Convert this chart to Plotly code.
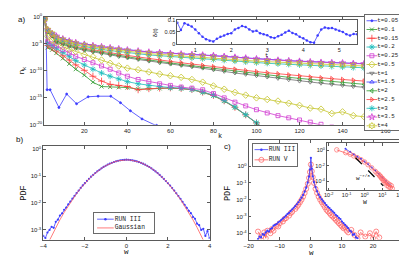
import plotly.graph_objects as go

W, H = 407, 256

# ---------------- panel a: n_k spectra (log10 values) ----------------
K = [1.5, 3, 5, 7, 10, 13, 16, 20, 24, 28, 32, 36, 40, 45, 50, 55, 60, 65, 70,
     75, 80, 85, 90, 95, 100, 105, 110, 115, 120, 125, 130, 135, 140, 145, 150,
     155, 160, 165, 170]
K_t005 = [1.5, 2.2, 2.7, 4.1, 8.2, 11.8, 16.4, 21.8, 26.4, 32.3, 36.8, 41.4, 46.8, 53.6, 58]
LOGN_t005 = [-0.4, -2.4, -13.5, -13.5, -16.8, -14.3, -16.1, -14.8, -14.7, -14.7, -15.9, -17.4, -18.9, -20.1, -21]
LOGN_t01 = [-0.4, -5.7, -6.1, -6.7, -7.7, -8.7, -9.7, -10.8, -12.1, -12.9, -13.0, -13.05, -13.1, -13.4,
            -13.3, -13.25, -13.2, -13.3, -13.5, -14.0, -14.6, -15.6, -16.8, -18.2, -19.7, -21.2]
LOGN_t015 = [-0.4, -5.3, -5.7, -6.3, -7.2, -8.0, -8.9, -9.9, -11.0, -11.9, -12.5, -12.7, -12.9, -13.5,
             -13.3, -13.2, -13.15, -13.25, -13.45, -13.95, -14.55, -15.55, -16.75, -18.15, -19.65, -21.15]
LOGN_t02 = [-0.4, -4.9, -5.3, -5.8, -6.6, -7.3, -8.1, -8.9, -9.7, -10.4, -11.0, -11.5, -12.0, -12.4,
            -12.7, -12.9, -13.1, -13.2, -13.45, -13.9, -14.5, -15.5, -16.7, -18.1, -19.6, -21.1]
LOGN_t025 = [-0.4, -4.6, -5.0, -5.4, -6.1, -6.7, -7.3, -7.9, -8.5, -9.1, -9.7, -10.4, -11.0, -11.6,
             -12.0, -12.4, -12.7, -13.0, -13.2, -13.5, -14.2, -15.0, -15.8, -16.5, -17.2, -17.8,
             -18.3, -18.7, -19.1, -19.5, -19.9, -20.4, -20.9]
LOGN_t05 = [-0.4, -3.6, -4.3, -4.8, -5.5, -6.0, -6.4, -7.0, -7.4, -8.0, -8.6, -9.1, -9.5, -9.8,
            -10.2, -10.6, -10.9, -11.2, -11.6, -12.1, -12.8, -13.4, -14.0, -14.5, -15.0, -15.3,
            -15.6, -16.0, -16.4, -16.9, -17.1, -17.9, -17.6, -18.3, -18.5, -18.8, -19.3, -19.9, -20.3]
LOGN_t1 = [-0.4, -2.8, -3.6, -4.7, -5.1, -5.5, -5.85, -6.2, -6.5, -6.8, -7.1, -7.35, -7.6, -7.9,
           -8.2, -8.5, -8.75, -9.0, -9.25, -9.5, -9.8, -10.1, -10.4, -10.65, -10.9, -11.15, -11.4,
           -11.65, -11.9, -12.1, -12.3, -12.5, -12.7, -12.9, -13.1, -13.3, -13.45, -13.6, -13.8]
LOGN_t15 = [-0.4, -2.3, -3.0, -3.5, -4.0, -4.4, -4.7, -5.0, -5.3, -5.5, -5.7, -5.9, -6.1, -6.3,
            -6.5, -6.6, -6.75, -6.85, -6.95, -7.05, -7.15, -7.3, -7.45, -7.6, -7.75, -7.9, -8.0,
            -8.1, -8.2, -8.3, -8.4, -8.45, -8.5, -8.6, -8.65, -8.7, -8.75, -8.8, -8.85]
LOGN_t2 = [-0.4, -2.7, -3.5, -4.5, -4.9, -5.3, -5.65, -6.0, -6.3, -6.6, -6.9, -7.15, -7.4, -7.7,
           -8.0, -8.3, -8.55, -8.8, -9.05, -9.3, -9.55, -9.8, -10.05, -10.3, -10.55, -10.8, -11.0,
           -11.2, -11.4, -11.6, -11.8, -12.0, -12.2, -12.35, -12.5, -12.65, -12.8, -12.95, -13.1]
LOGN_t25 = [-0.4, -2.6, -3.4, -4.3, -4.7, -5.1, -5.45, -5.8, -6.1, -6.4, -6.65, -6.9, -7.15, -7.45,
            -7.75, -8.0, -8.25, -8.5, -8.75, -9.0, -9.25, -9.5, -9.7, -9.95, -10.15, -10.35, -10.55,
            -10.75, -10.95, -11.15, -11.3, -11.45, -11.6, -11.75, -11.9, -12.05, -12.2, -12.35, -12.5]
LOGN_t3 = [-0.4, -2.5, -3.2, -4.1, -4.5, -4.9, -5.2, -5.5, -5.8, -6.05, -6.25, -6.45, -6.65, -6.85,
           -7.05, -7.2, -7.35, -7.5, -7.6, -7.75, -7.9, -8.05, -8.2, -8.35, -8.5, -8.6, -8.7, -8.8,
           -8.9, -9.0, -9.1, -9.2, -9.3, -9.4, -9.5, -9.6, -9.65, -9.7, -9.8]
LOGN_t35 = [-0.4, -2.4, -3.1, -3.6, -4.1, -4.5, -4.8, -5.1, -5.35, -5.55, -5.75, -5.95, -6.15, -6.35,
            -6.55, -6.65, -6.8, -6.9, -7.0, -7.1, -7.2, -7.35, -7.5, -7.65, -7.8, -7.95, -8.05,
            -8.15, -8.25, -8.35, -8.45, -8.5, -8.55, -8.65, -8.7, -8.75, -8.8, -8.85, -8.9]
LOGN_t4 = [-0.4, -2.4, -3.1, -3.9, -4.3, -4.7, -5.0, -5.3, -5.6, -5.8, -6.0, -6.2, -6.4, -6.6,
           -6.8, -6.95, -7.1, -7.2, -7.3, -7.45, -7.6, -7.75, -7.9, -8.05, -8.2, -8.3, -8.4, -8.5,
           -8.6, -8.7, -8.8, -8.85, -8.9, -9.0, -9.1, -9.15, -9.2, -9.25, -9.3]
T_LABELS = ["t=0.05", "t=0.1", "t=0.15", "t=0.2", "t=0.25", "t=0.5", "t=1",
            "t=1.5", "t=2", "t=2.5", "t=3", "t=3.5", "t=4"]
A_YTICKS = [1, 1e-5, 1e-10, 1e-15, 1e-20]
A_YTEXT = ["10<sup>0</sup>", "10<sup>-5</sup>", "10<sup>-10</sup>", "10<sup>-15</sup>", "10<sup>-20</sup>"]
A_XTICKS = [20, 40, 60, 80, 100, 120, 140, 160]

# inset a: delta(t)
T_IN = [0.5, 0.6, 0.7, 0.8, 0.9, 1.0, 1.1, 1.2, 1.3, 1.4, 1.5, 1.6, 1.7, 1.8, 1.9, 2.0, 2.1, 2.2,
        2.3, 2.4, 2.5, 2.6, 2.7, 2.8, 2.9, 3.0, 3.1, 3.2, 3.3, 3.4, 3.5, 3.6, 3.7, 3.8, 3.9, 4.0,
        4.1, 4.2, 4.3, 4.4, 4.5, 4.6, 4.7, 4.8, 4.9, 5.0, 5.1, 5.2, 5.3, 5.4, 5.5]
DELTA = [0.088, 0.058, 0.086, 0.080, 0.072, 0.060, 0.045, 0.030, 0.020, 0.014, 0.011, 0.022,
         0.030, 0.035, 0.042, 0.045, 0.060, 0.066, 0.074, 0.070, 0.060, 0.052, 0.055, 0.045,
         0.040, 0.036, 0.028, 0.025, 0.032, 0.038, 0.048, 0.055, 0.046, 0.040, 0.030, 0.024,
         0.015, 0.008, 0.006, 0.035, 0.060, 0.068, 0.065, 0.066, 0.060, 0.055, 0.050, 0.040,
         0.035, 0.042, 0.040]

# ---------------- panel b ----------------
W_B = [-4.0, -3.9, -3.8, -3.7, -3.6, -3.5, -3.4, -3.3, -3.2, -3.1, -3.0, -2.9, -2.8, -2.7, -2.6,
       -2.5, -2.4, -2.3, -2.2, -2.1, -2.0, -1.9, -1.8, -1.7, -1.6, -1.5, -1.4, -1.3, -1.2, -1.1,
       -1.0, -0.9, -0.8, -0.7, -0.6, -0.5, -0.4, -0.3, -0.2, -0.1, 0.0, 0.1, 0.2, 0.3, 0.4, 0.5,
       0.6, 0.7, 0.8, 0.9, 1.0, 1.1, 1.2, 1.3, 1.4, 1.5, 1.6, 1.7, 1.8, 1.9, 2.0, 2.1, 2.2, 2.3,
       2.4, 2.5, 2.6, 2.7, 2.8, 2.9, 3.0, 3.1, 3.2, 3.3, 3.4, 3.5, 3.6, 3.7, 3.8, 3.9, 4.0]
PDF_B_RUN3 = [0.0006, 0.0005, 0.0008, 0.0010, 0.0013, 0.0012, 0.0020, 0.0024, 0.0034, 0.0041,
              0.0056, 0.0068, 0.0089, 0.0113, 0.0145, 0.0183, 0.0232, 0.0290, 0.0362, 0.0448,
              0.0545, 0.0660, 0.0795, 0.0945, 0.111, 0.130, 0.150, 0.171, 0.194, 0.218, 0.242,
              0.266, 0.290, 0.312, 0.333, 0.352, 0.370, 0.383, 0.395, 0.402, 0.405, 0.403, 0.394,
              0.382, 0.369, 0.351, 0.332, 0.311, 0.289, 0.265, 0.241, 0.217, 0.193, 0.170, 0.149,
              0.129, 0.110, 0.094, 0.079, 0.0655, 0.054, 0.0445, 0.036, 0.0289, 0.0230, 0.0180,
              0.0143, 0.0110, 0.0086, 0.0066, 0.0051, 0.0042, 0.0030, 0.0026, 0.0017, 0.0015,
              0.0010, 0.0011, 0.0006, 0.0009, 0.0005]
W_GAUSS = [-3.8, -3.6, -3.4, -3.2, -3.0, -2.8, -2.6, -2.4, -2.2, -2.0, -1.8, -1.6, -1.4, -1.2,
           -1.0, -0.8, -0.6, -0.4, -0.2, 0.0, 0.2, 0.4, 0.6, 0.8, 1.0, 1.2, 1.4, 1.6, 1.8, 2.0,
           2.2, 2.4, 2.6, 2.8, 3.0, 3.2, 3.4, 3.6, 3.8]
PDF_GAUSS = [0.000292, 0.000612, 0.00123, 0.00238, 0.00443, 0.0079, 0.0136, 0.0224, 0.0355,
             0.0540, 0.0790, 0.1109, 0.1497, 0.1942, 0.2420, 0.2897, 0.3332, 0.3683, 0.3910,
             0.3989, 0.3910, 0.3683, 0.3332, 0.2897, 0.2420, 0.1942, 0.1497, 0.1109, 0.0790,
             0.0540, 0.0355, 0.0224, 0.0136, 0.0079, 0.00443, 0.00238, 0.00123, 0.000612, 0.000292]
B_YTICKS = [1, 0.1, 0.01, 0.001]
B_YTEXT = ["10<sup>0</sup>", "10<sup>-1</sup>", "10<sup>-2</sup>", "10<sup>-3</sup>"]
B_XTICKS = [-4, -2, 0, 2, 4]
B_LEGEND = ["RUN III", "Gaussian"]

# ---------------- panel c ----------------
W_C3 = [-17, -16.5, -16, -15.5, -15, -14.5, -14, -13.5, -13, -12.5, -12, -11.5, -11, -10.5, -10,
        -9.5, -9, -8.5, -8, -7.5, -7, -6.5, -6, -5.5, -5, -4.5, -4, -3.5, -3, -2.5, -2, -1.5, -1,
        -0.6, -0.3, 0, 0.3, 0.6, 1, 1.5, 2, 2.5, 3, 3.5, 4, 4.5, 5, 5.5, 6, 6.5, 7, 7.5, 8, 8.5,
        9, 9.5, 10, 10.5, 11, 11.5, 12, 12.5, 13, 13.5, 14, 14.5, 15]
LOGP_C3 = [-4.35, -4.2, -4.25, -4.05, -4.1, -3.95, -3.85, -3.9, -3.75, -3.7, -3.55, -3.5, -3.45,
           -3.35, -3.3, -3.2, -3.12, -3.05, -2.95, -2.85, -2.78, -2.68, -2.58, -2.48, -2.38, -2.27,
           -2.15, -2.02, -1.88, -1.72, -1.52, -1.28, -0.98, -0.62, -0.2, 0.5, -0.15, -0.6, -0.95,
           -1.25, -1.5, -1.7, -1.85, -1.98, -2.1, -2.2, -2.32, -2.42, -2.5, -2.6, -2.7, -2.78, -2.9,
           -2.98, -3.08, -3.15, -3.3, -3.4, -3.5, -3.6, -3.7, -3.85, -3.9, -4.1, -4.05, -4.25, -4.3]
W_C5 = [-17, -16, -15, -14.5, -14, -13, -12.5, -12, -11, -10.5, -10, -9, -8.5, -8, -7, -6.5, -6,
        -5, -4.5, -4, -3.5, -3, -2.5, -2, -1.5, -1, -0.6, -0.3, 0, 0.3, 0.6, 1, 1.5, 2, 2.5, 3,
        3.5, 4, 4.5, 5, 5.5, 6, 6.5, 7, 7.5, 8, 8.5, 9, 9.5, 10, 10.5, 11, 11.5, 12, 13, 14, 15,
        16, 17.5, 19, 20, 21, 22]
LOGP_C5 = [-3.9, -4.2, -3.95, -4.3, -3.85, -4.0, -3.75, -3.85, -3.55, -3.6, -3.4, -3.3, -3.15, -3.1,
           -2.95, -2.8, -2.72, -2.55, -2.42, -2.3, -2.15, -2.0, -1.82, -1.6, -1.35, -1.05, -0.7,
           -0.35, 0.1, -0.3, -0.65, -1.0, -1.35, -1.6, -1.82, -2.0, -2.15, -2.3, -2.45, -2.6, -2.7,
           -2.8, -2.92, -3.0, -3.1, -3.2, -3.3, -3.4, -3.5, -3.6, -3.7, -3.65, -3.85, -3.95, -3.8,
           -4.1, -4.3, -3.95, -4.2, -4.0, -4.3, -3.9, -4.25]
C_YTICKS = [1, 0.1, 0.01, 0.001, 0.0001]
C_YTEXT = ["10<sup>0</sup>", "10<sup>-1</sup>", "10<sup>-2</sup>", "10<sup>-3</sup>", "10<sup>-4</sup>"]
C_XTICKS = [-20, -10, 0, 10, 20, 30]
C_LEGEND = ["RUN III", "RUN V"]

# inset c (log10 |w|, log10 PDF)
LOGW_IN5 = [-1.55, -1.05, -0.8, -0.6, -0.4, -0.2, 0, 0.2, 0.4, 0.6, 0.7, 0.8, 0.85, 0.9, 0.95,
            1.0, 1.05, 1.1, 1.15, 1.2, 1.25, 1.3, 1.35, 1.4, 1.45, 1.5, 1.55]
LOGP_IN5 = [0.06, -0.3, -0.5, -0.72, -0.95, -1.2, -1.5, -1.85, -2.25, -2.7, -2.95, -3.1, -3.3,
            -3.35, -3.6, -3.6, -3.9, -3.85, -4.2, -4.05, -4.5, -4.25, -4.7, -4.4, -4.8, -4.55, -4.9]
LOGW_IN3 = [-1.06, -0.8, -0.6, -0.4, -0.2, 0, 0.2, 0.4, 0.6, 0.8, 1.0, 1.2, 1.4]
LOGP_IN3 = [0.19, -0.2, -0.5, -0.8, -1.1, -1.45, -1.8, -2.2, -2.6, -3.05, -3.5, -3.95, -4.4]
LOGW_SLOPE = [-0.5, 1.05]
LOGP_SLOPE = [-0.95, -4.57]
IN_XTICKS = [1e-2, 1e-1, 1, 10, 100]
IN_XTEXT = ["10<sup>-2</sup>", "10<sup>-1</sup>", "10<sup>0</sup>", "10<sup>1</sup>", "10<sup>2</sup>"]
IN_YTICKS = [1, 1e-2, 1e-4]
IN_YTEXT = ["10<sup>0</sup>", "10<sup>-2</sup>", "10<sup>-4</sup>"]


def p10(v):
    return [10 ** x for x in v]


def dxd(a, b):
    return [a / W, b / W]


def dyd(top, bottom):
    return [1 - bottom / H, 1 - top / H]


BLUE, GREEN, RED, CYAN = "#3b3bff", "#2f9a2f", "#ff3c3c", "#1cbcbc"
MAG, YEL, GRAY = "#d23cd2", "#c4c42a", "#6e6e6e"

series_a = [
    (K_t005, LOGN_t005, BLUE, "circle", 2),
    (K, LOGN_t01, GREEN, "x-thin-open", 4),
    (K, LOGN_t015, RED, "cross-thin-open", 5),
    (K, LOGN_t02, CYAN, "asterisk-open", 5),
    (K, LOGN_t025, MAG, "square-open", 4),
    (K, LOGN_t05, YEL, "diamond-open", 5),
    (K, LOGN_t1, GRAY, "triangle-down-open", 4),
    (K, LOGN_t15, BLUE, "triangle-up-open", 4),
    (K, LOGN_t2, GREEN, "triangle-left-open", 4),
    (K, LOGN_t25, RED, "triangle-right-open", 4),
    (K, LOGN_t3, CYAN, "asterisk-open", 5),
    (K, LOGN_t35, MAG, "star-open", 5),
    (K, LOGN_t4, YEL, "hexagram-open", 5),
]

fig = go.Figure()

for kx, lv, col, sym, sz in series_a:
    fig.add_trace(go.Scatter(x=kx[:len(lv)], y=p10(lv), mode="lines+markers",
                             line=dict(color=col, width=0.8),
                             marker=dict(symbol=sym, size=sz, color=col, line=dict(width=0.8, color=col)),
                             xaxis="x", yaxis="y", showlegend=False))

fig.add_trace(go.Scatter(x=T_IN, y=DELTA, mode="lines+markers", line=dict(color=BLUE, width=0.8),
                         marker=dict(size=2.5, color=BLUE), xaxis="x2", yaxis="y2", showlegend=False))

fig.add_trace(go.Scatter(x=W_B, y=PDF_B_RUN3, mode="lines+markers", line=dict(color=BLUE, width=0.8),
                         marker=dict(size=2.2, color=BLUE), xaxis="x3", yaxis="y3", showlegend=False))
fig.add_trace(go.Scatter(x=W_GAUSS, y=PDF_GAUSS, mode="lines", line=dict(color="#ff5a5a", width=0.8),
                         xaxis="x3", yaxis="y3", showlegend=False))

fig.add_trace(go.Scatter(x=W_C5, y=p10(LOGP_C5), mode="lines+markers", line=dict(color="#ff5a5a", width=0.8),
                         marker=dict(symbol="circle-open", size=5, color="#ff6a6a", line=dict(width=0.8)),
                         xaxis="x4", yaxis="y4", showlegend=False))
fig.add_trace(go.Scatter(x=W_C3, y=p10(LOGP_C3), mode="lines+markers", line=dict(color=BLUE, width=0.8),
                         marker=dict(size=2.2, color=BLUE), xaxis="x4", yaxis="y4", showlegend=False))

fig.add_trace(go.Scatter(x=p10(LOGW_IN3), y=p10(LOGP_IN3), mode="lines+markers", line=dict(color=BLUE, width=0.8),
                         marker=dict(size=2, color=BLUE), xaxis="x5", yaxis="y5", showlegend=False))
fig.add_trace(go.Scatter(x=p10(LOGW_IN5), y=p10(LOGP_IN5), mode="lines+markers", line=dict(color="#ff5a5a", width=0.8),
                         marker=dict(symbol="circle-open", size=4.5, color="#ff6a6a", line=dict(width=0.7)),
                         xaxis="x5", yaxis="y5", showlegend=False))
fig.add_trace(go.Scatter(x=p10(LOGW_SLOPE), y=p10(LOGP_SLOPE), mode="lines",
                         line=dict(color="black", width=1.3, dash="dash"),
                         xaxis="x5", yaxis="y5", showlegend=False))

# ---------- hand-built legends (legend boxes as small subplots) ----------
MONO = "Liberation Mono"
n = len(T_LABELS)
ly = [6 + 9 * i for i in range(n)]
for i, (kx, lv, col, sym, sz) in enumerate(series_a):
    fig.add_trace(go.Scatter(x=[1.5, 12.5], y=[ly[i], ly[i]], mode="lines", line=dict(color=col, width=0.8),
                             xaxis="x7", yaxis="y7", showlegend=False))
    fig.add_trace(go.Scatter(x=[7], y=[ly[i]], mode="markers",
                             marker=dict(symbol=sym, size=sz, color=col, line=dict(width=0.8, color=col)),
                             xaxis="x7", yaxis="y7", showlegend=False))
fig.add_trace(go.Scatter(x=[12.5] * n, y=ly, mode="text", text=T_LABELS, textposition="middle right",
                         textfont=dict(family=MONO, size=5.8, color="#222"), cliponaxis=False,
                         xaxis="x7", yaxis="y7", showlegend=False))

# legend b
fig.add_trace(go.Scatter(x=[3, 20], y=[6, 6], mode="lines", line=dict(color=BLUE, width=0.8),
                         xaxis="x8", yaxis="y8", showlegend=False))
fig.add_trace(go.Scatter(x=[11.5], y=[6], mode="markers", marker=dict(size=2.5, color=BLUE),
                         xaxis="x8", yaxis="y8", showlegend=False))
fig.add_trace(go.Scatter(x=[3, 20], y=[15, 15], mode="lines", line=dict(color="#ff5a5a", width=0.8),
                         xaxis="x8", yaxis="y8", showlegend=False))
fig.add_trace(go.Scatter(x=[21, 21], y=[6, 15], mode="text", text=B_LEGEND, textposition="middle right",
                         textfont=dict(family=MONO, size=6.3, color="#222"), cliponaxis=False,
                         xaxis="x8", yaxis="y8", showlegend=False))

# legend c
fig.add_trace(go.Scatter(x=[2, 16], y=[5.5, 5.5], mode="lines", line=dict(color=BLUE, width=0.8),
                         xaxis="x9", yaxis="y9", showlegend=False))
fig.add_trace(go.Scatter(x=[9], y=[5.5], mode="markers", marker=dict(size=2.5, color=BLUE),
                         xaxis="x9", yaxis="y9", showlegend=False))
fig.add_trace(go.Scatter(x=[2, 16], y=[16, 16], mode="lines", line=dict(color="#ff5a5a", width=0.8),
                         xaxis="x9", yaxis="y9", showlegend=False))
fig.add_trace(go.Scatter(x=[9], y=[16], mode="markers",
                         marker=dict(symbol="circle-open", size=5, color="#ff6a6a", line=dict(width=0.8)),
                         xaxis="x9", yaxis="y9", showlegend=False))
fig.add_trace(go.Scatter(x=[16.5, 16.5], y=[5.5, 16], mode="text", text=C_LEGEND, textposition="middle right",
                         textfont=dict(family=MONO, size=6.3, color="#222"), cliponaxis=False,
                         xaxis="x9", yaxis="y9", showlegend=False))

TF = dict(size=6, family="Liberation Sans", color="#222")
base = dict(showline=True, linecolor="#5a5a5a", linewidth=0.8, mirror="ticks", ticks="inside",
            ticklen=2.5, tickwidth=0.6, tickcolor="#5a5a5a", showgrid=False, zeroline=False,
            tickfont=TF)
legax = dict(showline=True, linecolor="#6a6a6a", linewidth=0.8, mirror=True, ticks="",
             showticklabels=False, showgrid=False, zeroline=False, fixedrange=True)
TF_IN = dict(size=5.5, family="Liberation Sans", color="#222")

layout = dict(
    width=W, height=H, margin=dict(l=0, r=0, t=0, b=0),
    paper_bgcolor="white", plot_bgcolor="white", showlegend=False,
    xaxis=dict(base, domain=dxd(32, 403), range=[1.4, 170], tickmode="array", tickvals=A_XTICKS,
               anchor="y"),
    yaxis=dict(base, domain=dyd(5, 116), type="log", range=[-20, 0], tickmode="array",
               tickvals=A_YTICKS, ticktext=A_YTEXT, anchor="x"),
    xaxis2=dict(base, domain=dxd(168, 352), range=[0.5, 5.5], tickmode="array",
                tickvals=[1, 2, 3, 4, 5], anchor="y2", tickfont=TF_IN),
    yaxis2=dict(base, domain=dyd(8, 33), range=[0, 0.1], tickmode="array",
                tickvals=[0, 0.05, 0.1], ticktext=["0", "0.05", "0.1"], anchor="x2", tickfont=TF_IN),
    xaxis3=dict(base, domain=dxd(31, 201), range=[-4, 4], tickmode="array", tickvals=B_XTICKS,
                ticktext=["\u22124", "\u22122", "0", "2", "4"], anchor="y3"),
    yaxis3=dict(base, domain=dyd(138, 234), type="log", range=[-3.36, 0.108], tickmode="array",
                tickvals=B_YTICKS, ticktext=B_YTEXT, anchor="x3"),
    xaxis4=dict(base, domain=dxd(241, 400), range=[-20, 30], tickmode="array", tickvals=C_XTICKS,
                ticktext=["\u221220", "\u221210", "0", "10", "20", "30"], anchor="y4"),
    yaxis4=dict(base, domain=dyd(132, 234), type="log", range=[-4.38, 1.54], tickmode="array",
                tickvals=C_YTICKS, ticktext=C_YTEXT, anchor="x4"),
    xaxis5=dict(base, domain=dxd(321, 397), type="log", range=[-2.1, 2.05], tickmode="array",
                tickvals=IN_XTICKS, ticktext=IN_XTEXT, anchor="y5", tickfont=TF_IN),
    yaxis5=dict(base, domain=dyd(135, 183), type="log", range=[-5.1, 0.9], tickmode="array",
                tickvals=IN_YTICKS, ticktext=IN_YTEXT, anchor="x5", tickfont=TF_IN),
    xaxis7=dict(legax, domain=dxd(360, 403), range=[0, 43], anchor="y7"),
    yaxis7=dict(legax, domain=dyd(3, 121), range=[118, 0], anchor="x7"),
    xaxis8=dict(legax, domain=dxd(83, 144), range=[0, 61], anchor="y8"),
    yaxis8=dict(legax, domain=dyd(207, 227), range=[20, 0], anchor="x8"),
    xaxis9=dict(legax, domain=dxd(245, 290), range=[0, 45], anchor="y9"),
    yaxis9=dict(legax, domain=dyd(136, 158), range=[22, 0], anchor="x9"),
)
fig.update_layout(**layout)


def ann(px, py, text, size=8, family="Liberation Sans", angle=0):
    return dict(x=px / W, y=1 - py / H, xref="paper", yref="paper", text=text, showarrow=False,
                xanchor="center", yanchor="middle", textangle=angle,
                font=dict(size=size, family=family, color="#111"))


fig.update_layout(annotations=[
    ann(9, 8, "a)", 8),
    ann(10, 60, "n<sub>k</sub>", 8, angle=-90),
    ann(212, 127, "k", 7, MONO),
    ann(259, 45, "t", 5.5, MONO),
    ann(146, 21, "\u03b4(t)", 6, angle=-90),
    ann(7, 131, "b)", 8),
    ann(11, 186, "PDF", 8.5, MONO, angle=-90),
    ann(116, 247, "w", 7.5, MONO),
    ann(219, 138, "c)", 8),
    ann(220, 187, "PDF", 8.5, MONO, angle=-90),
    ann(305, 248, "w", 7.5, MONO),
    ann(360, 196, "w", 6.5, MONO),
    ann(358, 171, "w<sup>\u22127/3</sup>", 6, MONO),
])

fig.write_html("out.html")
